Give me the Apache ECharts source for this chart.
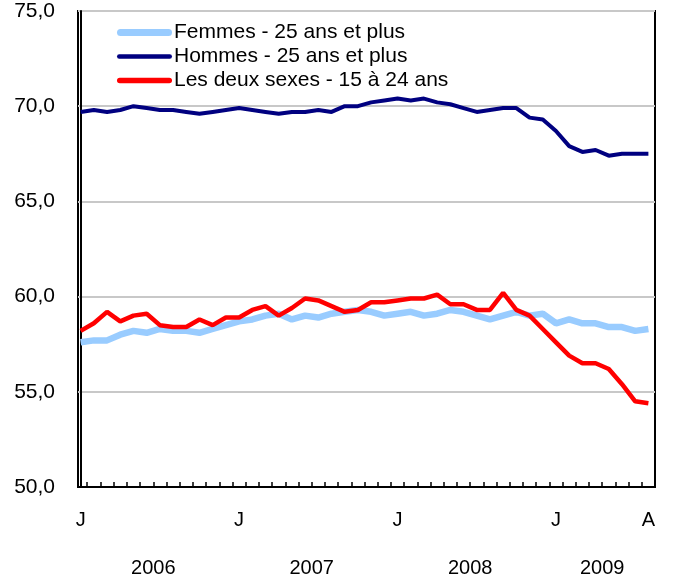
<!DOCTYPE html>
<html>
<head>
<meta charset="utf-8">
<script src="https://cdn.jsdelivr.net/npm/echarts@6/dist/echarts.min.js"></script>
<style>
  html, body { margin: 0; padding: 0; background: #fff; }
  #chart { width: 673px; height: 581px; }
</style>
</head>
<body>
<div id="chart"></div>
<script>
// mois de janvier 2006 à août 2009
const months = [
  'J','F','M','A','M','J','J','A','S','O','N','D',
  'J','F','M','A','M','J','J','A','S','O','N','D',
  'J','F','M','A','M','J','J','A','S','O','N','D',
  'J','F','M','A','M','J','J','A'
]
const years = ['2006', '2007', '2008', '2009']
const monthsPerYear = [12, 12, 12, 8]
const monthLabelIdx = [0, 12, 24, 36, 43]

const femmes = [
  57.6, 57.7, 57.7, 58.0, 58.2, 58.1, 58.3, 58.2, 58.2, 58.1, 58.3, 58.5,
  58.7, 58.8, 59.0, 59.1, 58.8, 59.0, 58.9, 59.1, 59.2, 59.3, 59.2, 59.0,
  59.1, 59.2, 59.0, 59.1, 59.3, 59.2, 59.0, 58.8, 59.0, 59.2, 59.0, 59.1,
  58.6, 58.8, 58.6, 58.6, 58.4, 58.4, 58.2, 58.3
]
const hommes = [
  69.7, 69.8, 69.7, 69.8, 70.0, 69.9, 69.8, 69.8, 69.7, 69.6, 69.7, 69.8,
  69.9, 69.8, 69.7, 69.6, 69.7, 69.7, 69.8, 69.7, 70.0, 70.0, 70.2, 70.3,
  70.4, 70.3, 70.4, 70.2, 70.1, 69.9, 69.7, 69.8, 69.9, 69.9, 69.4, 69.3,
  68.7, 67.9, 67.6, 67.7, 67.4, 67.5, 67.5, 67.5
]
const jeunes = [
  58.2, 58.6, 59.2, 58.7, 59.0, 59.1, 58.5, 58.4, 58.4, 58.8, 58.5, 58.9,
  58.9, 59.3, 59.5, 59.0, 59.4, 59.9, 59.8, 59.5, 59.2, 59.3, 59.7, 59.7,
  59.8, 59.9, 59.9, 60.1, 59.6, 59.6, 59.3, 59.3, 60.2, 59.3, 59.0, 58.3,
  57.6, 56.9, 56.5, 56.5, 56.2, 55.4, 54.5, 54.4
]

const FONT = "'Liberation Sans', Arial, sans-serif"

const toPairs = (arr) => arr.map((v, i) => [i, v])

// trait arrondi pour la légende (épaisseur h)
const pill = (h) => {
  const r = h / 2
  return `path://M${r},0 L${55 - r},0 A${r},${r} 0 0 1 ${55 - r},${h} L${r},${h} A${r},${r} 0 0 1 ${r},0 Z`
}

// centre de chaque année (en indice de mois)
const yearCenters = []
let start = 0
monthsPerYear.forEach((n) => {
  yearCenters.push(start + (n - 1) / 2)
  start += n
})

const tickValues = months.slice(0, -1).map((_, i) => i + 0.5)

const chart = echarts.init(document.getElementById('chart'))

chart.setOption({
  backgroundColor: '#fff',
  animation: false,
  textStyle: { fontFamily: FONT, color: '#000' },
  grid: {
    left: 78, right: 18, top: 11, bottom: 94,
    show: true, borderColor: '#000', borderWidth: 2, backgroundColor: 'transparent'
  },
  legend: {
    orient: 'vertical',
    left: 112,
    top: 17,
    itemWidth: 55,
    itemHeight: 10,
    itemGap: 3,
    textStyle: { fontFamily: FONT, fontSize: 21, color: '#000', padding: [0, 0, 0, -3] },
    data: [
      { name: 'Femmes - 25 ans et plus', icon: pill(7) },
      { name: 'Hommes - 25 ans et plus', icon: pill(4.5) },
      { name: 'Les deux sexes - 15 à 24 ans', icon: pill(5.5) }
    ]
  },
  xAxis: [
    {
      type: 'value',
      min: -0.2,
      max: 43.5,
      axisLine: { show: true, lineStyle: { color: '#000', width: 2 } },
      axisTick: {
        show: true, inside: true, length: 5,
        customValues: tickValues,
        lineStyle: { color: '#000', width: 1.5 }
      },
      splitLine: { show: false },
      axisLabel: {
        customValues: monthLabelIdx,
        formatter: (v) => months[Math.round(v)],
        fontFamily: FONT, fontSize: 20, color: '#000', margin: 23
      }
    },
    {
      type: 'value',
      min: -0.2,
      max: 43.5,
      position: 'bottom',
      offset: 50,
      axisLine: { show: false },
      axisTick: { show: false },
      splitLine: { show: false },
      axisLabel: {
        customValues: yearCenters,
        formatter: (v) => years[yearCenters.indexOf(v)],
        fontFamily: FONT, fontSize: 20, color: '#000', margin: 21
      }
    }
  ],
  yAxis: {
    type: 'value',
    min: 50,
    max: 75,
    interval: 5,
    axisLine: { show: true, lineStyle: { color: '#000', width: 2 } },
    axisTick: { show: false },
    splitLine: { show: true, lineStyle: { color: '#c8c8c8', width: 2 } },
    axisLabel: {
      formatter: (v) => v.toFixed(1).replace('.', ','),
      fontFamily: FONT, fontSize: 21, color: '#000', margin: 23
    }
  },
  series: [
    {
      name: 'Femmes - 25 ans et plus',
      type: 'line',
      data: toPairs(femmes),
      symbol: 'none',
      lineStyle: { color: '#99ccff', width: 6.5 },
      itemStyle: { color: '#99ccff' }
    },
    {
      name: 'Hommes - 25 ans et plus',
      type: 'line',
      data: toPairs(hommes),
      symbol: 'none',
      lineStyle: { color: '#000080', width: 4 },
      itemStyle: { color: '#000080' }
    },
    {
      name: 'Les deux sexes - 15 à 24 ans',
      type: 'line',
      data: toPairs(jeunes),
      symbol: 'none',
      lineStyle: { color: '#ff0000', width: 4.5 },
      itemStyle: { color: '#ff0000' }
    }
  ]
})
</script>
</body>
</html>
